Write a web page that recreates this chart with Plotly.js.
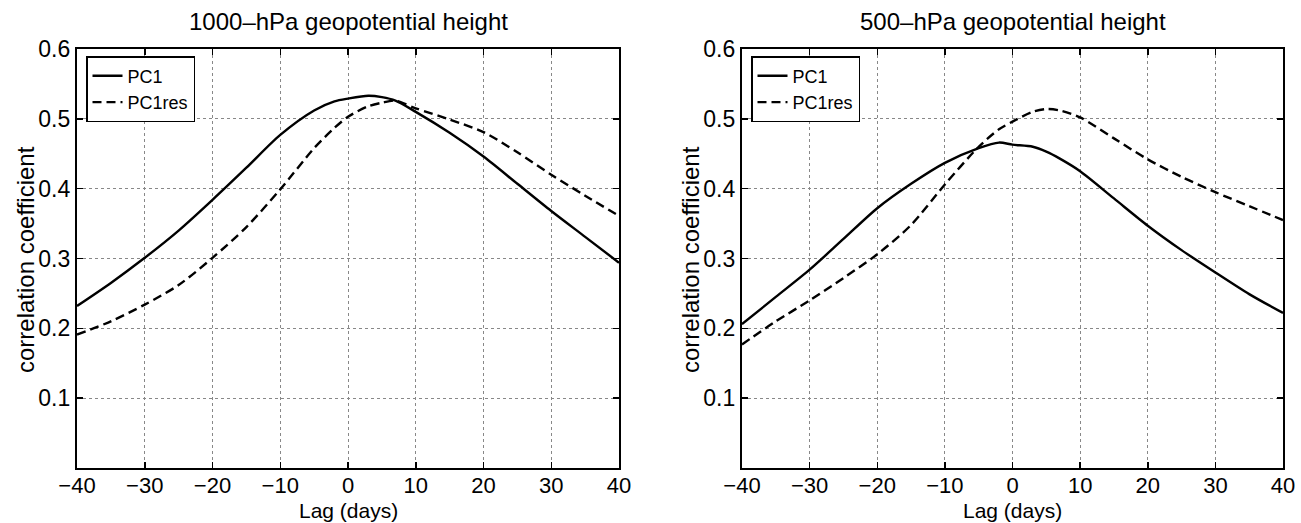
<!DOCTYPE html>
<html>
<head>
<meta charset="utf-8">
<script src="https://cdn.plot.ly/plotly-3.0.1.min.js"></script>
<style>html,body{margin:0;padding:0;background:#fff;}#chart{width:1301px;height:523px;}</style>
</head>
<body>
<div id="chart"></div>
<script>
// Lag in days
const lag = [-40, -35, -30, -25, -20, -15, -10, -5, -2, 0, 3, 5, 7, 10, 15, 20, 25, 30, 35, 40];

// 1000-hPa geopotential height
const pc1_1000    = [0.232, 0.265, 0.301, 0.340, 0.384, 0.430, 0.477, 0.512, 0.525, 0.529, 0.533, 0.531, 0.526, 0.510, 0.480, 0.446, 0.407, 0.368, 0.331, 0.294];
const pc1res_1000 = [0.191, 0.210, 0.234, 0.262, 0.301, 0.345, 0.399, 0.458, 0.487, 0.503, 0.518, 0.523, 0.526, 0.515, 0.499, 0.481, 0.452, 0.420, 0.390, 0.361];

// 500-hPa geopotential height
const pc1_500     = [0.206, 0.245, 0.284, 0.328, 0.372, 0.407, 0.437, 0.458, 0.466, 0.463, 0.460, 0.453, 0.443, 0.425, 0.386, 0.347, 0.312, 0.280, 0.249, 0.222];
const pc1res_500  = [0.177, 0.210, 0.240, 0.272, 0.306, 0.348, 0.406, 0.460, 0.485, 0.496, 0.510, 0.514, 0.512, 0.502, 0.472, 0.442, 0.417, 0.395, 0.375, 0.355];

const titles = ["1000\u2013hPa geopotential height", "500\u2013hPa geopotential height"];
const seriesNames = ["PC1", "PC1res"];
const xLabel = "Lag (days)";
const yLabel = "correlation coefficient";
const xTicks = [-40, -30, -20, -10, 0, 10, 20, 30, 40];
const yTicks = [0.1, 0.2, 0.3, 0.4, 0.5, 0.6];

const FONT = "Liberation Sans, Arial, Helvetica, sans-serif";

function tr(y, name, dash, xa, ya, leg) {
  return {x: lag, y: y, name: name, type: 'scatter', mode: 'lines',
    line: {color: '#000', width: 2.4, dash: dash, shape: 'spline', smoothing: 0.8},
    xaxis: xa, yaxis: ya, legend: leg, hoverinfo: 'skip'};
}

const DASH = '9px,5px';
const data = [
  tr(pc1_1000, seriesNames[0], 'solid', 'x', 'y', 'legend'),
  tr(pc1res_1000, seriesNames[1], DASH, 'x', 'y', 'legend'),
  tr(pc1_500, seriesNames[0], 'solid', 'x2', 'y2', 'legend2'),
  tr(pc1res_500, seriesNames[1], DASH, 'x2', 'y2', 'legend2')
];

function xax(domain, anchor) {
  return {domain: domain, anchor: anchor, range: [-40, 40], tickvals: xTicks,
    ticks: 'inside', ticklen: 6, tickwidth: 1.5, tickcolor: '#000',
    showline: true, linecolor: '#000', linewidth: 2.2, mirror: 'allticks',
    showgrid: true, gridcolor: '#888', griddash: 'dot', gridwidth: 1, zeroline: false,
    ticklabelstandoff: -4,
    tickfont: {family: FONT, size: 22, color: '#000'}};
}
function yax(domain, anchor) {
  return {domain: domain, anchor: anchor, range: [0, 0.6], tickvals: yTicks,
    ticktext: yTicks.map(v => v.toFixed(1)),
    ticks: 'inside', ticklen: 6, tickwidth: 1.5, tickcolor: '#000',
    showline: true, linecolor: '#000', linewidth: 2.2, mirror: 'allticks',
    showgrid: true, gridcolor: '#888', griddash: 'dot', gridwidth: 1, zeroline: false,
    tickfont: {family: FONT, size: 23, color: '#000'}};
}

const yd = [1 - 468/523, 1 - 49/523];
const xd1 = [77/1301, 619/1301];
const xd2 = [742/1301, 1283/1301];

function leg(xpx) {
  return {x: xpx/1301, y: 1 - 56/523, xanchor: 'left', yanchor: 'top',
    bgcolor: '#fff', bordercolor: '#000', borderwidth: 1.5,
    font: {family: FONT, size: 18, color: '#000'},
    tracegroupgap: 0, itemwidth: 30};
}

function ann(text, xpx, ypx, size, opts) {
  return Object.assign({text: text, x: xpx/1301, y: 1 - ypx/523, xref: 'paper', yref: 'paper',
    xanchor: 'center', yanchor: 'middle', showarrow: false,
    font: {family: FONT, size: size, color: '#000'}}, opts || {});
}

const c1 = (77 + 619) / 2, c2 = (742 + 1283) / 2;

const layout = {
  width: 1301, height: 523,
  margin: {l: 0, r: 0, t: 0, b: 0},
  paper_bgcolor: '#fff', plot_bgcolor: '#fff',
  font: {family: FONT, color: '#000'},
  showlegend: true,
  xaxis: xax(xd1, 'y'), yaxis: yax(yd, 'x'),
  xaxis2: xax(xd2, 'y2'), yaxis2: yax(yd, 'x2'),
  legend: leg(86), legend2: leg(751),
  annotations: [
    ann(titles[0], c1, 22, 24),
    ann(titles[1], c2, 22, 24),
    ann(xLabel, c1, 0, 21, {y: 0, yanchor: 'bottom', borderpad: 0}),
    ann(xLabel, c2, 0, 21, {y: 0, yanchor: 'bottom', borderpad: 0}),
    ann(yLabel, 25, 260, 24, {textangle: -90}),
    ann(yLabel, 690, 260, 24, {textangle: -90})
  ]
};

Plotly.newPlot('chart', data, layout, {staticPlot: true, displayModeBar: false});
</script>
</body>
</html>
